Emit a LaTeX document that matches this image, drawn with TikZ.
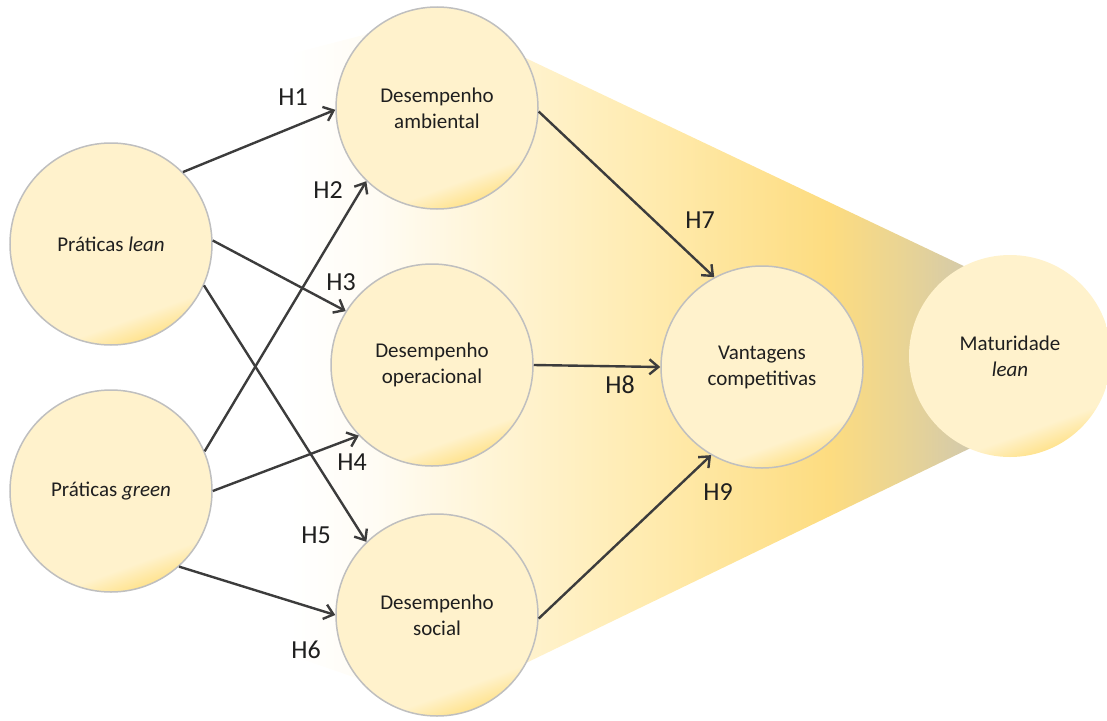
\documentclass[tikz,border=0pt]{standalone}
\usepackage{fontspec}
\setmainfont{Carlito}
\usetikzlibrary{arrows.meta}

% colours
\definecolor{bcream}{HTML}{FFF2CC}
\definecolor{bgold}{HTML}{FFE38F}
\definecolor{rimgray}{HTML}{BFBFBF}
\definecolor{arrowgray}{HTML}{3C3C3C}
\definecolor{coneA}{HTML}{FFFCF4}
\definecolor{coneB}{HTML}{FFF4D4}
\definecolor{coneC}{HTML}{FFEBAF}
\definecolor{coneD}{HTML}{FDDC80}
\definecolor{coneE}{HTML}{E9D494}
\definecolor{coneF}{HTML}{D4CAAA}

% bubble fill: cream with a faint golden rim at the lower right
\pgfdeclareverticalshading{bubblefill}{100bp}{%
  color(0bp)=(bgold); color(25bp)=(bgold); color(31bp)=(bcream); color(100bp)=(bcream)}
% band behind the model, from white to gold to a greyish tan
\pgfdeclarehorizontalshading{conefill}{100bp}{%
  color(0bp)=(white); color(25bp)=(white); color(31bp)=(coneA); color(39.5bp)=(coneB);
  color(50bp)=(coneC); color(62.5bp)=(coneD); color(67.5bp)=(coneE); color(72bp)=(coneF);
  color(100bp)=(coneF)}

\tikzset{
  bubble/.style={circle, minimum size=202pt, inner sep=0pt, draw=rimgray, line width=1.5pt,
    shading=bubblefill, shading angle=20, align=center, text=black!88,
    font=\fontsize{21}{26}\selectfont},
  arr/.style={draw=arrowgray, line width=2.4pt,
    -{Straight Barb[length=9pt,width=15pt,line width=2.4pt]}},
  hlab/.style={inner sep=0pt, text=black!88, font=\fontsize{26}{30}\selectfont}
}

\begin{document}
\begin{tikzpicture}[x=1pt,y=-1pt]
\useasboundingbox (0,0) rectangle (1107,720);

% background band
\shade[shading=conefill] (290,54) -- (437,16) -- (1010,288) -- (1010,429) -- (437,706) -- (290,655) -- cycle;

% constructs
\node[bubble] (lean) at (111,244) {Práticas \textit{lean}};
\node[bubble] (green) at (111,491) {Práticas \textit{green}};
\node[bubble] (amb) at (437,108) {Desempenho\\ambiental};
\node[bubble] (oper) at (432,365) {Desempenho\\operacional};
\node[bubble] (soc) at (437,615) {Desempenho\\social};
\node[bubble] (vant) at (762,367) {Vantagens\\competitivas};
\node[bubble, draw=none] (mat) at (1010,356) {Maturidade\\\textit{lean}};

% hypotheses
\draw[arr] (lean.45) -- (amb.181);
\draw[arr] (green.23) -- (amb.226);
\draw[arr] (lean.2) -- (oper.148);
\draw[arr] (green.0) -- (oper.224);
\draw[arr] (lean.-24) -- (soc.134);
\draw[arr] (green.-48) -- (soc.180);
\draw[arr] (amb.-2) -- (vant.118);
\draw[arr] (oper.0) -- (vant.180);
\draw[arr] (soc.-2) -- (vant.240);

% hypothesis labels
\node[hlab] (h1) at (293,97) {H1};
\node[hlab] (h2) at (328,190) {H2};
\node[hlab] (h3) at (341,282) {H3};
\node[hlab] (h4) at (352,462) {H4};
\node[hlab] (h5) at (316,535) {H5};
\node[hlab] (h6) at (306,650) {H6};
\node[hlab] (h7) at (700,220) {H7};
\node[hlab] (h8) at (620,385) {H8};
\node[hlab] (h9) at (718,492) {H9};
\end{tikzpicture}
\end{document}
